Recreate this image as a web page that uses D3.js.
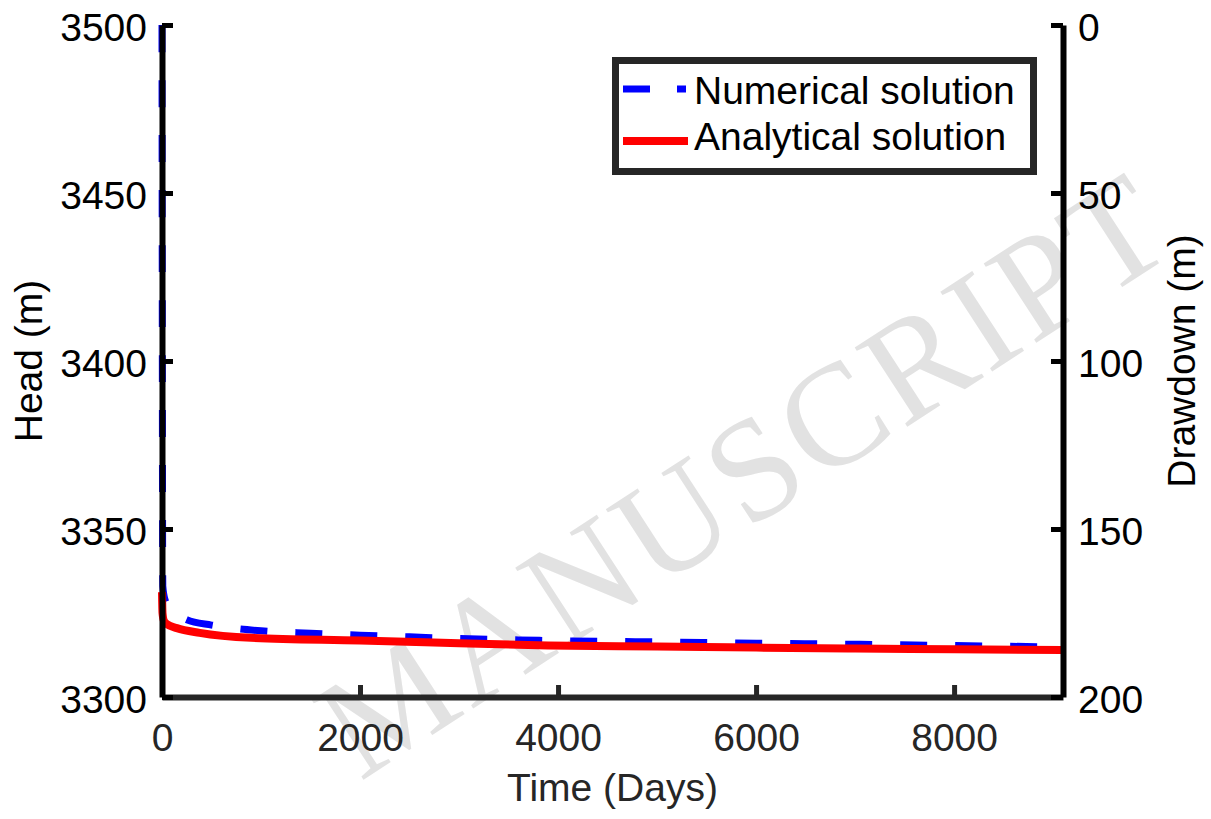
<!DOCTYPE html>
<html>
<head>
<meta charset="utf-8">
<script src="https://cdn.jsdelivr.net/npm/d3@7"></script>
<style>
  html, body { margin: 0; padding: 0; background: #fff; }
  svg { display: block; }
  text { font-family: "Liberation Sans", Arial, sans-serif; }
</style>
</head>
<body>
<svg id="chart" width="1211" height="819"></svg>
<script>
// ---- data ----
const timeNum = [0, 8, 30, 80, 130, 250, 500, 1000, 1500, 2000, 2500, 3000, 3600, 4100, 5000, 6000, 7000, 8000, 9100];
const headNum = [3500, 3333, 3329, 3326.5, 3325, 3323, 3321.4, 3319.7, 3319.0, 3318.4, 3317.9, 3317.4, 3317.0, 3316.7, 3316.4, 3316.0, 3315.7, 3315.3, 3314.9];
const timeAna = [0, 5, 20, 50, 150, 380, 900, 2000, 3000, 3900, 5000, 6000, 7000, 8000, 9100];
const headAna = [3331.2, 3325, 3322.6, 3321.7, 3320.5, 3319.1, 3317.6, 3316.8, 3316.0, 3315.3, 3315.0, 3314.7, 3314.4, 3314.2, 3314.0];
const xTicks = [0, 2000, 4000, 6000, 8000];
const headTicks = [3300, 3350, 3400, 3450, 3500];
const drawdownTicks = [0, 50, 100, 150, 200];
const seriesNames = ["Numerical solution", "Analytical solution"];
const labels = { x: "Time (Days)", yLeft: "Head (m)", yRight: "Drawdown (m)" };
const watermark = "MANUSCRIPT";

// ---- layout ----
const svg = d3.select("#chart");
const L = 162, R = 1063, T = 25, B = 697;
const x = d3.scaleLinear().domain([0, 9100]).range([L, R]);
const y = d3.scaleLinear().domain([3300, 3500]).range([B, T]);
const yR = d3.scaleLinear().domain([0, 200]).range([T, B]);
const FS = 39;

// watermark
svg.append("text")
  .attr("transform", "translate(360,782) rotate(-33)")
  .style("font-family", "'Liberation Serif', 'Times New Roman', serif")
  .attr("font-size", 145)
  .attr("fill", "#e2e2e2")
  .attr("textLength", 975)
  .attr("lengthAdjust", "spacing")
  .text(watermark);

// lines
const numData = timeNum.map((t, i) => [t, headNum[i]]);
const anaData = timeAna.map((t, i) => [t, headAna[i]]);
const line = d3.line().x(d => x(d[0])).y(d => y(d[1])).curve(d3.curveMonotoneX);

svg.append("path").datum(numData)
  .attr("d", line).attr("fill", "none")
  .attr("stroke", "#0000ff").attr("stroke-width", 7)
  .attr("stroke-dasharray", "27,28");

svg.append("path").datum(anaData)
  .attr("d", line).attr("fill", "none")
  .attr("stroke", "#ff0000").attr("stroke-width", 8);

// axes
const gx = svg.append("g").attr("transform", `translate(0,${B})`)
  .call(d3.axisBottom(x).tickValues(xTicks).tickFormat(d3.format("d")).tickSize(-12).tickSizeOuter(0).tickPadding(26));
gx.select(".domain").attr("stroke", "#262626").attr("stroke-width", 6);
gx.selectAll(".tick line").attr("stroke", "#262626").attr("stroke-width", 5);
gx.selectAll(".tick text").attr("font-size", FS).attr("fill", "#262626")
  .style("font-family", "'Liberation Sans', Arial, sans-serif");

const gy = svg.append("g").attr("transform", `translate(${L},0)`)
  .call(d3.axisLeft(y).tickValues(headTicks).tickFormat(d3.format("d")).tickSize(-11).tickSizeOuter(0).tickPadding(15));
gy.select(".domain").attr("stroke", "#000").attr("stroke-width", 6);
gy.selectAll(".tick line").attr("stroke", "#000").attr("stroke-width", 5);
gy.selectAll(".tick text").attr("font-size", FS).attr("fill", "#000")
  .style("font-family", "'Liberation Sans', Arial, sans-serif").attr("dy", "0.4em");

const gr = svg.append("g").attr("transform", `translate(${R},0)`)
  .call(d3.axisRight(yR).tickValues(drawdownTicks).tickFormat(d3.format("d")).tickSize(-12).tickSizeOuter(0).tickPadding(15));
gr.select(".domain").attr("stroke", "#000").attr("stroke-width", 6);
gr.selectAll(".tick line").attr("stroke", "#000").attr("stroke-width", 5);
gr.selectAll(".tick text").attr("font-size", FS).attr("fill", "#000")
  .style("font-family", "'Liberation Sans', Arial, sans-serif").attr("dy", "0.4em");

// axis labels
svg.append("text").attr("x", (L + R) / 2).attr("y", 801)
  .attr("text-anchor", "middle").attr("font-size", FS).attr("fill", "#262626")
  .text(labels.x);
svg.append("text").attr("transform", `translate(42,${(T + B) / 2}) rotate(-90)`)
  .attr("text-anchor", "middle").attr("font-size", FS).attr("fill", "#000")
  .text(labels.yLeft);
svg.append("text").attr("transform", `translate(1195,${(T + B) / 2}) rotate(-90)`)
  .attr("text-anchor", "middle").attr("font-size", FS).attr("fill", "#000")
  .text(labels.yRight);

// legend
const lg = svg.append("g");
lg.append("rect").attr("x", 615.5).attr("y", 60.5).attr("width", 418).attr("height", 111)
  .attr("fill", "#fff").attr("stroke", "#262626").attr("stroke-width", 7);
const legY = [89, 141];
const legText = [104, 150];
lg.append("line").attr("x1", 623).attr("x2", 688).attr("y1", legY[0]).attr("y2", legY[0])
  .attr("stroke", "#0000ff").attr("stroke-width", 7).attr("stroke-dasharray", "27,27,9,40");
lg.append("line").attr("x1", 623).attr("x2", 688).attr("y1", legY[1]).attr("y2", legY[1])
  .attr("stroke", "#ff0000").attr("stroke-width", 8);
seriesNames.forEach((s, i) => {
  lg.append("text").attr("x", 694).attr("y", legText[i])
    .attr("font-size", FS).attr("fill", "#000").text(s);
});
</script>
</body>
</html>
